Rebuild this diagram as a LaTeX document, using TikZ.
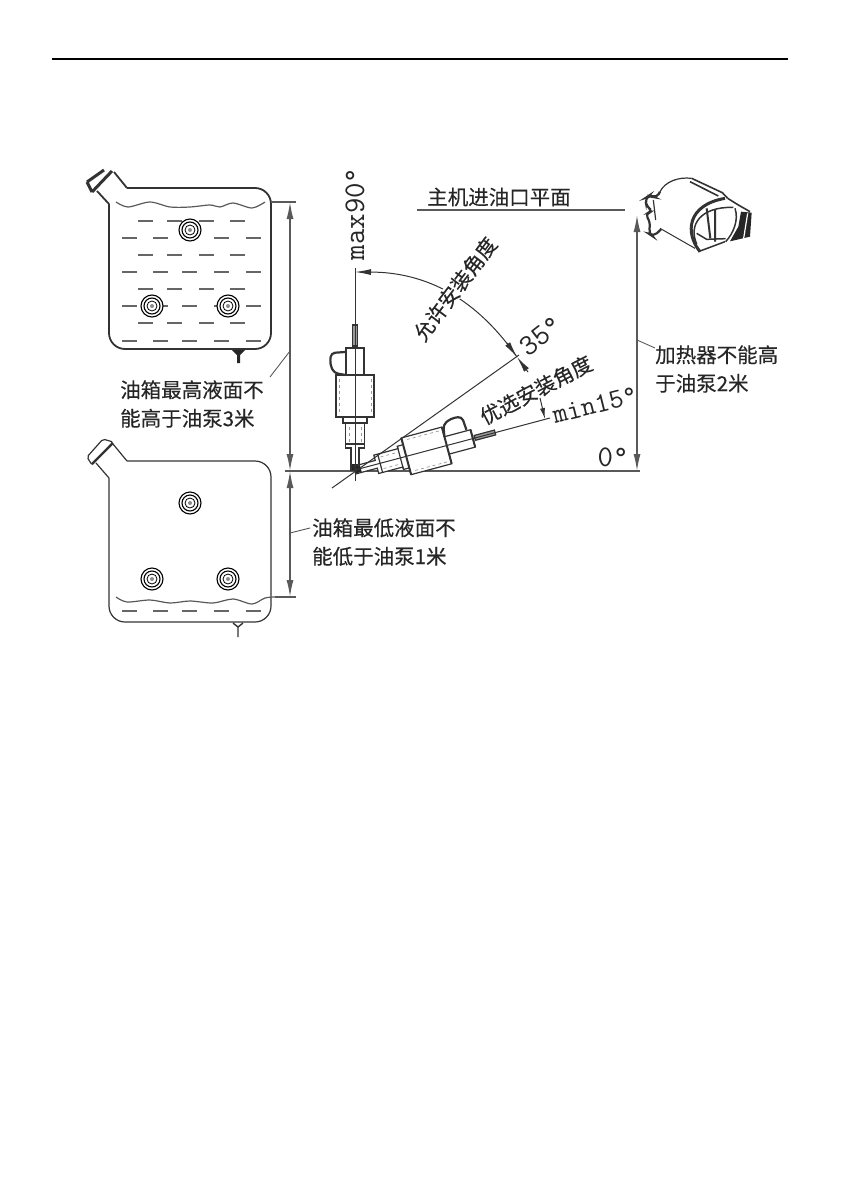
\documentclass[tikz,border=0pt]{standalone}
\usepackage{fontspec}
\usetikzlibrary{arrows.meta}
\newfontfamily\cjk[FakeBold=0.25]{Noto Sans CJK SC}
\tikzset{line/.style = {draw = black!80, line width = 1}}
\tikzset{dim/.style = {draw = black!65, line width = 1.5}}
\tikzset{tipdim/.style = {dim, {Latex[length=17, width=7]}-{Latex[length=17, width=7]}}}
\tikzset{lab/.style = {font = \cjk\fontsize{20.5}{28.5}\selectfont, align = left, text = black!85, inner sep = 0}}
\tikzset{num/.style = {font = \ttfamily\fontsize{30}{30}\selectfont, text = black!85, inner sep = 0}}
\tikzset{wave/.style = {draw = black!65, line width = 1.2}}
\tikzset{oildash/.style = {draw = black!60, line width = 1.3}}
\tikzset{pics/boss/.style = {code = {
    \draw [fill = white, line width = 1.1] (0, 0) circle (11);
    \draw [line width = 1.1] (0, 0) circle (8);
    \draw [line width = 0.8] (0, 0) circle (5);
    \fill [black!45] (0, 0) circle (2);
  }}}
\tikzset{pics/oilpump/.style = {code = {
    \draw [line, fill = white, line width = 1.2] (-4, 0) -- (-4, -22) -- (-9.5, -22) -- (-9.5, -47) -- (-12, -47) -- (-12, -53)
      -- (-19, -53) -- (-19, -95) -- (-9, -95) -- (-9, -122) -- (9, -122) -- (9, -95) -- (19, -95) -- (19, -53)
      -- (12, -53) -- (12, -47) -- (9.5, -47) -- (9.5, -22) -- (4, -22) -- (4, 0) -- cycle;
    \draw [line, line width = 2] (-19, -53) -- (19, -53) (-19, -95) -- (19, -95) (-9, -122) -- (9, -122);
    \draw [line, line width = 1.2] (-12, -47) -- (12, -47) (-9.5, -26) -- (9.5, -26);
    \draw [draw = black!40, line width = 0.7, dashed] (-16, -58) -- (-16, -92) (16, -58) -- (16, -92)
      (-6, -28) -- (-6, -45) (6, -28) -- (6, -45);
    \draw [line, fill = black!40, line width = 1.2] (-2.5, -124) -- (-2.5, -145) -- (2.5, -145) -- (2.5, -124) -- cycle;
    \draw [line, line width = 2.2, rounded corners = 4] (-9, -95) -- (-21, -97) -- (-25, -106) -- (-24, -117) -- (-10, -118);
    \fill [black!85] (-3.5, 0) rectangle (3.5, -6);
  }}}

\begin{document}
\begin{tikzpicture}[x = 1pt, y = -1pt]
  \useasboundingbox (0, 0) rectangle (843, 1191);
  \coordinate (ruleL) at (52, 59);
  \coordinate (ruleR) at (788, 59);
  \draw [line width = 2, black] (ruleL) -- (ruleR);

  % upper tank
  \draw [line, line width = 1.8, rounded corners = 16] (109, 204) -- (109, 349) -- (271, 349) -- (271, 188) -- (127, 188);
  \draw [line, line width = 1.8] (109, 204) -- (97, 191) (127, 188) -- (114, 172);
  \draw [line, line width = 3] (87, 182) -- (104, 170) (92, 192) -- (112, 171) (87, 182) -- (92, 192);
  \draw [wave] plot [smooth] coordinates {(116, 202) (128, 207) (150, 202) (170, 207) (190, 207) (210, 205) (220, 207) (233, 203) (252, 208) (265, 202)};
  \foreach \y in {221, 255, 289, 323}
    \foreach \x in {138, 167, 199, 230}
      \draw [oildash] (\x, \y) -- ++(15, 0);
  \foreach \y in {238, 272, 306, 341}
    \foreach \x in {122, 153, 182, 214, 246}
      \draw [oildash] (\x, \y) -- ++(15, 0);
  \pic at (190, 230) {boss};
  \pic at (152, 306) {boss};
  \pic at (228, 306) {boss};
  \fill [black!85] (232, 350) -- (245, 350) -- (240, 355) -- (240, 363) -- (237, 363) -- (237, 355) -- cycle;

  % lower tank
  \draw [line, line width = 1.2, rounded corners = 16] (109, 478) -- (109, 622) -- (271, 622) -- (271, 461) -- (127, 461);
  \draw [line, line width = 1.2] (109, 478) -- (96, 463) (127, 461) -- (113, 444);
  \draw [line, line width = 1.2, rounded corners = 2] (92, 465) -- (87, 457) -- (103, 439) -- (113, 442) -- cycle;
  \draw [line, line width = 2.4] (92, 464) -- (113, 443);
  \draw [wave] plot [smooth] coordinates {(116, 597) (127, 602) (150, 600) (170, 603) (190, 601) (213, 603) (233, 599) (252, 604) (265, 598) (275, 597)};
  \foreach \x in {122, 153, 182, 214, 246}
    \draw [oildash] (\x, 611) -- ++(15, 0);
  \pic at (190, 503) {boss};
  \pic at (152, 579) {boss};
  \pic at (228, 579) {boss};
  \draw [line, line width = 1.4] (233, 623) -- (238, 627) -- (243, 623) (238, 627) -- (238, 637);

  % levels and distances
  \coordinate (topL) at (271, 202);
  \coordinate (topR) at (296, 202);
  \coordinate (lowL) at (275, 597);
  \coordinate (lowR) at (296, 597);
  \coordinate (zeroL) at (285, 471);
  \coordinate (zeroR) at (640, 471);
  \coordinate (dimTop) at (290, 202);
  \coordinate (dimMid) at (290, 471);
  \coordinate (dimLow) at (290, 597);
  \draw [dim] (topL) -- (topR);
  \draw [dim] (lowL) -- (lowR);
  \draw [dim] (zeroL) -- (zeroR);
  \draw [tipdim] (dimTop) -- (dimMid);
  \draw [tipdim] (dimMid) -- (dimLow);

  \coordinate (planeL) at (417, 210);
  \coordinate (planeR) at (625, 210);
  \coordinate (heatTop) at (637, 215);
  \coordinate (heatLow) at (637, 471);
  \draw [dim, line width = 1.2] (planeL) -- (planeR);
  \draw [tipdim] (heatLow) -- (heatTop);

  % angles
  \coordinate (centre) at (355, 470);
  \pic at (centre) {oilpump};
  \pic [rotate = -75] at (centre) {oilpump};

  \coordinate (vertLow) at (355, 481);
  \coordinate (vertTop) at (355, 268);
  \coordinate (ang90) at (355, 272);
  \coordinate (ang35) at (517, 357);
  \coordinate (ang35in) at (507, 343);
  \coordinate (ang35out) at (528, 372);
  \coordinate (ang15in) at (540, 398);
  \coordinate (ang15) at (545, 419);
  \coordinate (leadLow) at (332, 488);
  \coordinate (leadTop) at (519, 355);
  \coordinate (minEnd) at (550, 418);
  \draw [line] (vertLow) -- (vertTop);
  \draw [line] (leadLow) -- (leadTop);
  \draw [line] (centre) -- (minEnd);
  \draw [line, -{Latex[length=16, width=6]}] (ang35) to [bend right = 27.5] (ang90);
  \draw [line, -{Latex[length=16, width=6]}] (ang35out) -- (ang35);
  \draw [line, -{Latex[length=16, width=6]}] (ang35in) -- (ang35);
  \draw [line, -{Latex[length=11, width=5]}] (ang15in) -- (ang15);

  % heater
  \begin{scope}[shift = {(635, 170)}, scale = 1/3]
    \draw [line, line width = 1.2] (75, 65) .. controls (90, 35) and (130, 20) .. (170, 25);
    \draw [line, line width = 1.6] (170, 25) -- (262, 68) -- (278, 85) (165, 35) -- (250, 78);
    \draw [line, line width = 1.6] (278, 85) -- (310, 105) -- (345, 125);
    \draw [line, line width = 1] (75, 175) -- (180, 235);
    \draw [line, line width = 2.2, rounded corners = 5] (75, 65) -- (65, 85) -- (45, 75) -- (30, 85) -- (35, 110) -- (55, 125)
      -- (30, 130) -- (47, 160) -- (40, 190) -- (55, 200) -- (78, 178);
    \draw [line, line width = 1.2] (55, 90) -- (62, 150);
    \draw [line, line width = 3] (195, 245) .. controls (150, 190) and (155, 105) .. (270, 85);
    \draw [line, line width = 1.5] (185, 222) .. controls (160, 165) and (195, 110) .. (295, 112);
    \draw [line, line width = 2] (240, 118) -- (240, 215) (215, 115) -- (226, 205);
    \draw [line, line width = 1.5] (185, 190) -- (215, 208) -- (272, 206) (300, 115) .. controls (312, 150) and (295, 190) .. (272, 215);
    \draw [line, line width = 1.5] (190, 245) -- (270, 215);
    \fill [black!85] (318, 125) -- (350, 128) -- (345, 200) -- (285, 214) -- (310, 170) -- cycle;
    \draw [white, line width = 1.2] (338, 130) -- (326, 205);
  \end{scope}

  % labels
  \node [lab, anchor = west] (lblHigh) at (120, 404) {油箱最高液面不\\能高于油泵3米};
  \node [lab, anchor = west] (lblLow) at (312, 542) {油箱最低液面不\\能低于油泵1米};
  \node [lab, anchor = west] (lblHeat) at (655, 369) {加热器不能高\\于油泵2米};
  \node [lab] (lblPlane) at (499, 197) {主机进油口平面};
  \node [lab, rotate = 53, fill = white] (lblAllow) at (455, 289) {允许安装角度};
  \node [lab, rotate = 27.5] (lblPrefer) at (536, 390) {优选安装角度};
  \node [num, rotate = 90] (lblMax) at (355, 214) {max90°};
  \node [num, rotate = 38] (lbl35) at (541, 336) {35°};
  \node [num, rotate = 14, font = \ttfamily\fontsize{28}{28}\selectfont] (lblMin) at (595, 405) {min15°};
  \node [num] (lblZero) at (613, 457) {0°};

  \coordinate (leadHigh) at (290, 351);
  \coordinate (leadHighEnd) at (270, 377);
  \coordinate (leadLowT) at (290, 533);
  \coordinate (leadLowEnd) at (310, 528);
  \coordinate (leadHeat) at (637, 340);
  \coordinate (leadHeatEnd) at (655, 348);
  \draw [dim, line width = 0.9] (leadHigh) -- (leadHighEnd);
  \draw [dim, line width = 0.9] (leadLowT) -- (leadLowEnd);
  \draw [dim, line width = 0.9] (leadHeat) -- (leadHeatEnd);
\end{tikzpicture}
\end{document}
